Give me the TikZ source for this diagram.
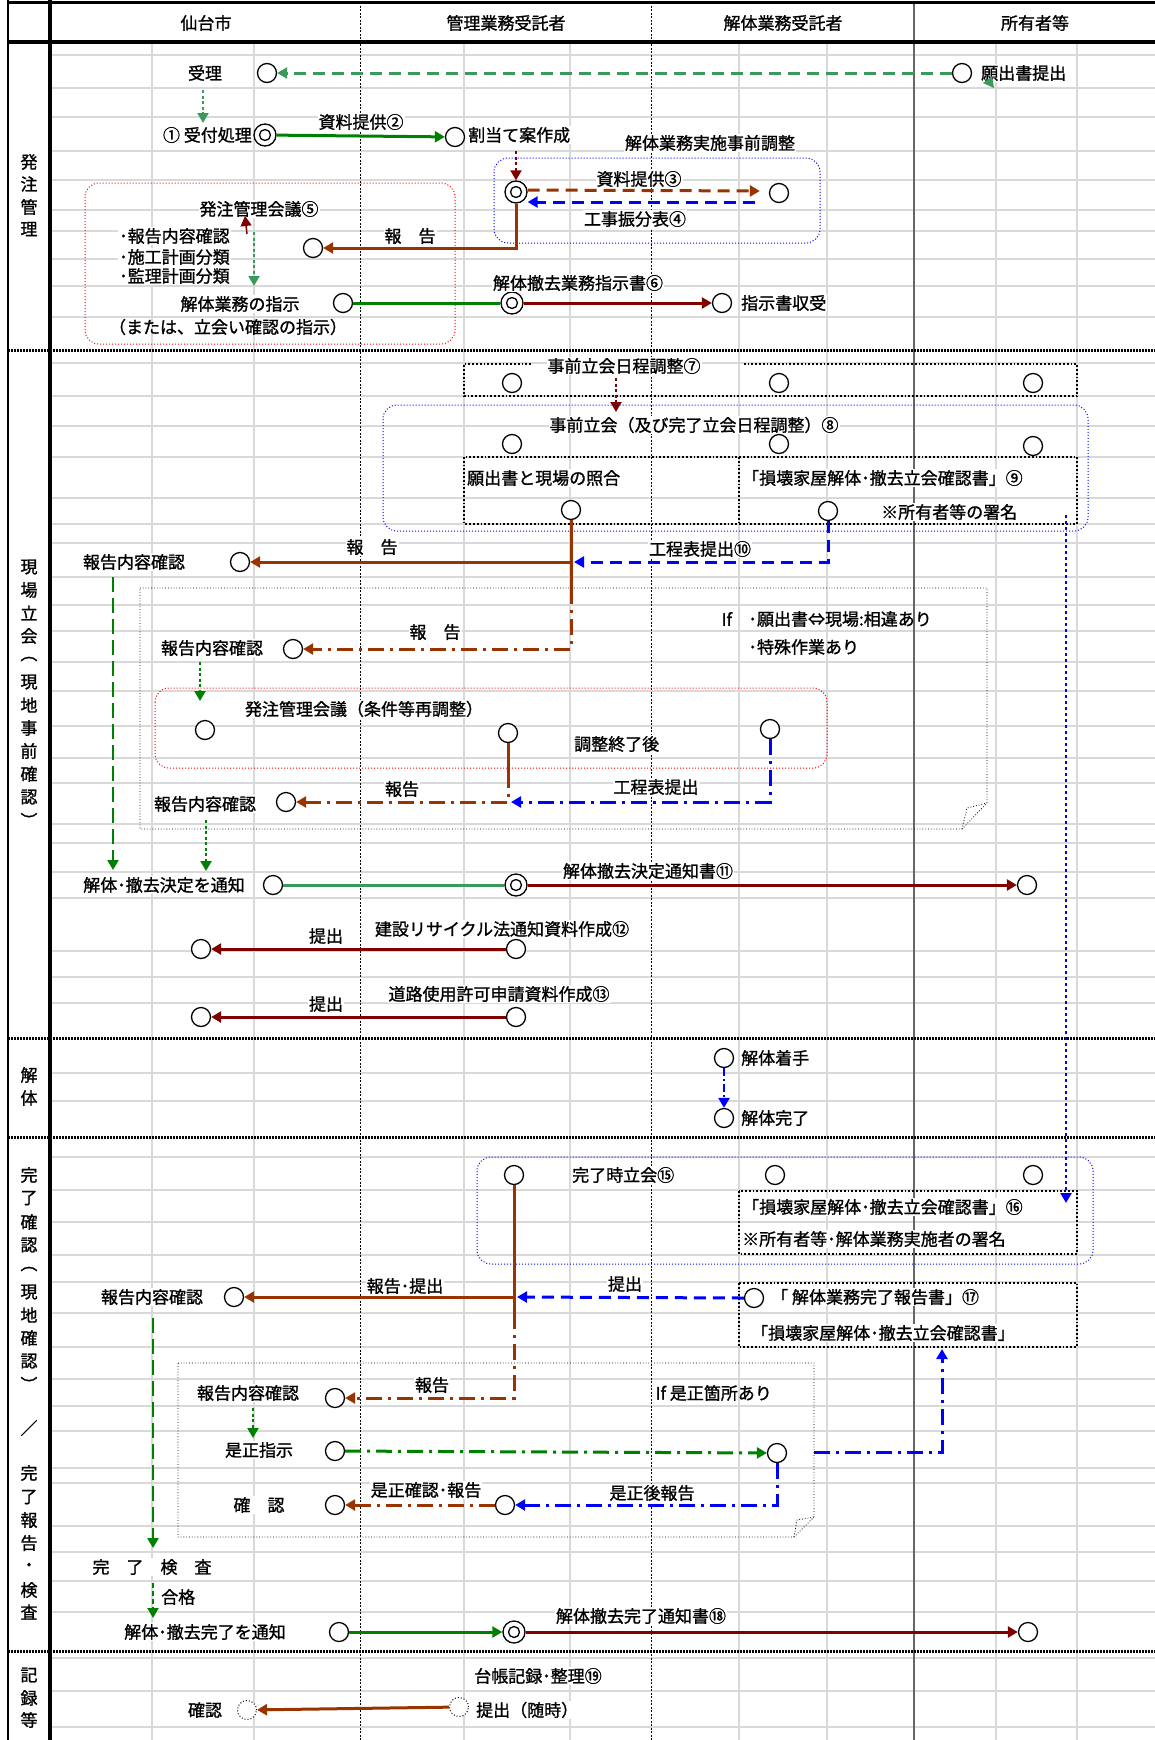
\documentclass[tikz,border=0pt]{standalone}
\usepackage{fontspec}
\setmainfont{Noto Sans CJK JP}[FakeBold=1.2,AutoFakeBold=1.2]
\usetikzlibrary{arrows.meta,backgrounds,calc}
\definecolor{sgreen}{HTML}{3A9A5C}
\definecolor{dgreen}{HTML}{008000}
\definecolor{brn}{HTML}{993300}
\definecolor{dred}{HTML}{800000}
\definecolor{gridc}{HTML}{D9D9D9}
\tikzset{
 cir/.style={circle,draw,line width=1.3pt,fill=white,minimum size=19pt,inner sep=0pt},
 dcir/.style={cir,minimum size=22pt,path picture={\draw[line width=1.3pt] (path picture bounding box.center) circle[radius=5.5pt];}},
 dotcir/.style={circle,draw,dotted,line width=1pt,fill=white,minimum size=19pt,inner sep=0pt},
 lb/.style={fill=white,inner sep=1pt},
 cn/.style={line width=3pt},
 arr/.style={-{Triangle[length=10pt,width=11pt]}},
 dsh/.style={dash pattern=on 12pt off 7pt},
 ldsh/.style={dash pattern=on 15pt off 6pt},
 ddot/.style={dash pattern=on 16pt off 6pt on 3pt off 6pt},
 dtt/.style={dash pattern=on 3pt off 2.5pt},
 bdot/.style={draw=blue,line width=1pt,dotted,rounded corners=14pt},
 rdot/.style={draw=red,line width=1pt,dotted,rounded corners=14pt},
 kdot/.style={draw=black,line width=1.8pt,dotted},
 kthin/.style={draw=black,line width=0.8pt,dotted},
 sepline/.style={line width=3pt,dash pattern=on 2pt off 1pt},
}
\begin{document}
\begin{tikzpicture}[x=1pt,y=-1pt,font=\fontsize{17}{20}\selectfont\bfseries]
\useasboundingbox (0,0) rectangle (1155,1740);
\begin{scope}[on background layer]
\fill[white] (0,0) rectangle (1155,1740);
\foreach \y in {55,88,117,151,180,210,231,259,286,317,363,396,426,457,498,524,543,577,605,631,662,691,726,758,783,824,843,872,898,951,977,1003,1073,1101,1157,1190,1222,1255,1282,1313,1347,1379,1406,1431,1468,1483,1526,1552,1581,1612,1658,1691,1727}
  \draw[gridc,line width=2pt] (50,\y) -- (1155,\y);
\foreach \x in {152,254,464,570,739,827,996,1077}
  \draw[gridc,line width=2pt] (\x,42) -- (\x,1740);
\draw[black,line width=0.8pt,dash pattern=on 2pt off 1.5pt] (360,2) -- (360,1740);
\draw[black,line width=0.8pt,dash pattern=on 2pt off 1.5pt] (651,2) -- (651,1740);
\draw[black!60,line width=2pt] (914,2) -- (914,1740);
\foreach \y in {350,1038,1137,1651}
  \draw[sepline] (8,\y) -- (1155,\y);
\draw[line width=3pt] (8,2) -- (1155,2);
\draw[line width=4pt] (8,42) -- (1155,42);
\draw[line width=2pt] (8,0) -- (8,1740);
\draw[line width=3.5pt] (50,0) -- (50,1740);
\end{scope}

% header
\node at (206,23) {仙台市};
\node at (506,23) {管理業務受託者};
\node at (783,23) {解体業務受託者};
\node at (1035,23) {所有者等};

% section labels
\foreach \c/\y in {発/162,注/184,管/207,理/229,
  現/567,場/590,立/613,会/636,︵/659,現/682,地/705,事/728,前/751,確/774,認/797,︶/820,
  解/1075,体/1098,
  完/1175,了/1198,確/1222,認/1245,︵/1269,現/1292,地/1315,確/1338,認/1361,︶/1384,／/1428,完/1473,了/1497,報/1520,告/1543,・/1567,検/1590,査/1612,
  記/1675,録/1698,等/1720}
  \node at (29,\y) {\c};

% ===== section 1 =====
\node[lb] at (205,73) {受理};
\node[cir] (a1) at (267,73) {};
\node[cir] (a2) at (962,73) {};
\node[lb,anchor=west] at (980,73) {願出書提出};
\draw[sgreen,cn,dsh,arr] (a2) -- (a1);
\fill[sgreen] (983,83) -- (992,76) -- (994,88) -- cycle;
\coordinate (g0a) at (203,90);
\coordinate (g0b) at (203,123);
\draw[sgreen,line width=2pt,dtt,arr] (g0a) -- (g0b);

\node[lb,anchor=east] at (253,135) {① 受付処理};
\node[dcir] (b1) at (265,135) {};
\node[cir] (b2) at (455,137) {};
\node[lb,anchor=west] at (467,135) {割当て案作成};
\draw[dgreen,cn,arr] (b1) -- (b2);
\node[lb] at (361,122) {資料提供②};

\draw[bdot] (494,158) rectangle (820,243);
\node[lb] at (710,143) {解体業務実施事前調整};
\node[dcir] (c1) at (516,192) {};
\node[cir] (c2) at (779,193) {};
\coordinate (c0) at (516,151);
\draw[dred,line width=2pt,dtt,arr] (c0) -- (c1.north);
\draw[brn,cn,dsh,arr] ($(c1.east)+(0,-2)$) -- ($(c2.west)+(-9,-2)$);
\draw[blue,cn,dsh,arr] ($(c2.west)+(-14,9)$) -- ($(c1.east)+(0,10)$);
\node[lb] at (639,179) {資料提供③};
\node[lb] at (635,219) {工事振分表④};

\draw[rdot] (85,183) rectangle (455,344);
\node[cir] (c3) at (313,248) {};
\draw[brn,cn,arr] (c1.south) |- (c3.east);
\node[lb] at (410,236) {報　告};
\node[lb] at (259,209) {発注管理会議⑤};
\coordinate (r0a) at (247,234);
\coordinate (r0b) at (245,216);
\draw[dred,line width=1.5pt,arr] (r0a) -- (r0b);
\coordinate (g1a) at (254,232);
\coordinate (g1b) at (254,286);
\draw[sgreen,line width=2pt,dtt,arr] (g1a) -- (g1b);
\node[lb,anchor=west] at (118,236) {･報告内容確認};
\node[lb,anchor=west] at (118,257) {･施工計画分類};
\node[lb,anchor=west] at (118,276) {･監理計画分類};
\node[lb] at (240,304) {解体業務の指示};
\node at (228,327) {（または、立会い確認の指示）};
\node[cir] (d1) at (343,303) {};
\node[dcir] (d2) at (512,303) {};
\node[cir] (d3) at (722,303) {};
\draw[dgreen,cn] (d1) -- (d2);
\draw[dred,cn,arr] (d2) -- (d3);
\node[lb] at (578,283) {解体撤去業務指示書⑥};
\node[lb,anchor=west] at (740,303) {指示書収受};

% ===== section 2 =====
\draw[kdot] (531,364) -- (464,364) -- (464,396) -- (1077,396) -- (1077,364) -- (744,364);
\node[lb] at (624,366) {事前立会日程調整⑦};
\node[cir] (e1) at (512,383) {};
\node[cir] (e2) at (779,383) {};
\node[cir] (e3) at (1033,383) {};
\coordinate (e0a) at (616,378);
\coordinate (e0b) at (616,412);
\draw[dred,line width=2pt,dtt,arr] (e0a) -- (e0b);

\draw[bdot] (383,405) rectangle (1088,531);
\node[lb] at (694,425) {事前立会（及び完了立会日程調整）⑧};
\node[cir] (f1) at (512,444) {};
\node[cir] (f2) at (779,444) {};
\node[cir] (f3) at (1033,446) {};
\draw[kdot] (464,457) rectangle (1077,524);
\draw[kdot] (739,457) -- (739,524);
\node[lb,anchor=west] at (466,478) {願出書と現場の照合};
\node[lb,anchor=west] at (741,478) {「損壊家屋解体･撤去立会確認書」⑨};
\node[cir] (g1) at (571,510) {};
\node[cir] (g2) at (828,511) {};
\node[lb,anchor=west] at (880,512) {※所有者等の署名};
\coordinate (bz1) at (1066,515);
\coordinate (bz2) at (1066,1203);
\draw[blue,line width=2.5pt,dash pattern=on 3pt off 3pt,arr] (bz1) -- (bz2);

\node[cir] (h1) at (240,562) {};
\node[lb] at (134,562) {報告内容確認};
\coordinate (j1) at (571,562);
\coordinate (j2) at (571,588);
\draw[brn,cn,arr] (g1.south) -- (j1) -- (h1.east);
\draw[brn,cn] (j1) -- (j2);
\node[lb] at (372,547) {報　告};
\draw[blue,cn,dsh,arr] (g2.south) |- ($(j1)+(3,0)$);
\node[lb] at (700,549) {工程表提出⑩};

\draw[kthin] (140,588) -- (987,588) -- (987,803) -- (962,829) -- (140,829) -- cycle;
\draw[kthin] (962,829) -- (967,808) -- (987,803);
\node[cir] (h2) at (293,649) {};
\node[lb] at (212,648) {報告内容確認};
\draw[brn,cn,ddot,arr] (j2) -- (571,649) -- (h2.east);
\node[lb] at (435,632) {報　告};
\node[anchor=west] at (718,619) {If};
\node[anchor=west] at (745,619) {･願出書⇔現場:相違あり};
\node[anchor=west] at (745,647) {･特殊作業あり};

\coordinate (lg1) at (113,577);
\coordinate (lg2) at (113,870);
\draw[dgreen,line width=2.5pt,ldsh,arr] (lg1) -- (lg2);
\coordinate (gd1) at (200,662);
\coordinate (gd2) at (200,701);
\draw[dgreen,line width=2pt,dtt,arr] (gd1) -- (gd2);

\draw[rdot] (155,688) rectangle (827,768);
\node[lb] at (364,709) {発注管理会議（条件等再調整）};
\node[cir] (k1) at (205,730) {};
\node[cir] (k2) at (508,733) {};
\node[cir] (k3) at (770,729) {};
\node[lb,anchor=west] at (573,744) {調整終了後};
\coordinate (k2a) at (508,772);
\coordinate (k2b) at (508,802);
\node[cir] (h3) at (286,802) {};
\node[lb] at (205,804) {報告内容確認};
\draw[brn,cn] (k2.south) -- (k2a);
\draw[brn,cn,ddot,arr] (k2a) -- (k2b) -- (h3.east);
\node[lb] at (402,789) {報告};
\draw[blue,cn,ddot,arr] (k3.south) |- ($(k2b)+(3,0)$);
\node[lb] at (656,787) {工程表提出};
\coordinate (gd3) at (206,820);
\coordinate (gd4) at (206,871);
\draw[dgreen,line width=2pt,dtt,arr] (gd3) -- (gd4);

\node[lb] at (164,885) {解体･撤去決定を通知};
\node[cir] (m1) at (273,885) {};
\node[dcir] (m2) at (516,885) {};
\node[cir] (m3) at (1027,885) {};
\draw[sgreen,cn] (m1) -- (m2);
\draw[dred,cn,arr] (m2) -- (m3);
\node[lb] at (648,871) {解体撤去決定通知書⑪};

\node[cir] (n1) at (201,949) {};
\node[cir] (n2) at (516,949) {};
\draw[dred,cn,arr] (n2) -- (n1);
\node[lb] at (502,929) {建設リサイクル法通知資料作成⑫};
\node[lb] at (326,936) {提出};
\node[cir] (p1) at (201,1017) {};
\node[cir] (p2) at (516,1017) {};
\draw[dred,cn,arr] (p2) -- (p1);
\node[lb] at (499,994) {道路使用許可申請資料作成⑬};
\node[lb] at (326,1004) {提出};

% ===== section 3 =====
\node[cir] (q1) at (724,1058) {};
\node[lb,anchor=west] at (740,1058) {解体着手};
\node[cir] (q2) at (724,1118) {};
\node[lb,anchor=west] at (740,1118) {解体完了};
\draw[blue,line width=2.5pt,dash pattern=on 8pt off 3pt on 2pt off 3pt,arr] (q1.south) -- (q2.north);

% ===== section 4 =====
\draw[bdot] (477,1157) rectangle (1093,1264);
\node[cir] (r1) at (514,1175) {};
\node[cir] (r2) at (775,1175) {};
\node[cir] (r3) at (1033,1175) {};
\node[lb,anchor=west] at (571,1175) {完了時立会⑮};
\draw[kdot] (739,1191) rectangle (1077,1254);
\node[lb,anchor=west] at (741,1207) {「損壊家屋解体･撤去立会確認書」⑯};
\node[lb,anchor=west] at (741,1239) {※所有者等･解体業務実施者の署名};

\coordinate (s0) at (514,1297);
\coordinate (s0b) at (514,1313);
\node[cir] (s1) at (234,1297) {};
\node[lb] at (152,1297) {報告内容確認};
\draw[brn,cn,arr] (r1.south) -- (s0) -- (s1.east);
\draw[brn,cn] (s0) -- (s0b);
\node[lb] at (405,1286) {報告･提出};
\draw[kdot] (739,1283) rectangle (1077,1347);
\node[cir] (t1) at (754,1298) {};
\draw[blue,cn,dsh,arr] (t1.west) -- ($(s0)+(3,0)$);
\node[lb] at (625,1284) {提出};
\node[lb,anchor=west] at (770,1297) {「 解体業務完了報告書」⑰};
\node[lb,anchor=west] at (750,1333) {「損壊家屋解体･撤去立会確認書」};
\coordinate (bl1) at (814,1452);
\coordinate (bl2) at (942,1452);
\coordinate (bl3) at (942,1349);
\draw[blue,cn,ddot,arr] (bl1) -- (bl2) -- (bl3);

\coordinate (lg3) at (153,1318);
\coordinate (lg4) at (153,1548);
\draw[dgreen,line width=2.5pt,ldsh,arr] (lg3) -- (lg4);

\draw[kthin] (178,1363) -- (814,1363) -- (814,1517) -- (794,1537) -- (178,1537) -- cycle;
\draw[kthin] (794,1537) -- (797,1520) -- (814,1517);
\node[cir] (s2) at (335,1398) {};
\node[lb] at (248,1393) {報告内容確認};
\draw[brn,cn,ddot,arr] (s0b) -- (514,1398) -- (s2.east);
\node[lb] at (432,1385) {報告};
\node[anchor=west] at (652,1393) {If 是正箇所あり};
\coordinate (gd5) at (253,1408);
\coordinate (gd6) at (253,1438);
\draw[dgreen,line width=2pt,dtt,arr] (gd5) -- (gd6);
\node[lb] at (259,1450) {是正指示};
\node[cir] (u1) at (335,1451) {};
\node[cir] (u2) at (777,1453) {};
\draw[dgreen,cn,ddot,arr] (u1) -- (u2);
\node[cir] (u3) at (505,1505) {};
\node[cir] (u4) at (335,1505) {};
\draw[blue,cn,ddot,arr] (u2.south) |- (u3.east);
\node[lb] at (652,1493) {是正後報告};
\draw[brn,cn,ddot,arr] (u3) -- (u4);
\node[lb] at (426,1490) {是正確認･報告};
\node[lb] at (259,1505) {確　認};

\node[lb] at (152,1567) {完　了　検　査};
\coordinate (gd7) at (153,1583);
\coordinate (gd8) at (153,1618);
\draw[dgreen,line width=2pt,dash pattern=on 5pt off 3pt,arr] (gd7) -- (gd8);
\node[lb,anchor=west] at (160,1597) {合格};
\node[lb] at (205,1632) {解体･撤去完了を通知};
\node[cir] (v1) at (339,1632) {};
\node[dcir] (v2) at (514,1632) {};
\node[cir] (v3) at (1028,1632) {};
\draw[dgreen,cn,arr] (v1) -- (v2);
\draw[dred,cn,arr] (v2) -- (v3);
\node[lb] at (641,1616) {解体撤去完了通知書⑱};

% ===== section 5 =====
\node[lb] at (538,1676) {台帳記録･整理⑲};
\node[lb] at (205,1710) {確認};
\node[dotcir] (w1) at (247,1710) {};
\node[dotcir] (w2) at (459,1707) {};
\node[lb,anchor=west] at (475,1710) {提出（随時）};
\draw[brn,cn,arr] (w2) -- (w1);
\end{tikzpicture}
\end{document}
